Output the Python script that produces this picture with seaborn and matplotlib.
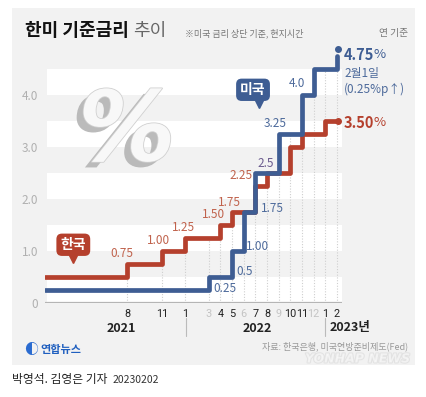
import matplotlib
matplotlib.use('Agg')
import matplotlib.pyplot as plt
import matplotlib.patheffects as pe
from matplotlib.patches import Rectangle
import seaborn as sns
import pandas as pd

# data (months since 2021-01 are computed from these)
kr_month = ['2021-01', '2021-08', '2021-11', '2022-01', '2022-04', '2022-05',
            '2022-07', '2022-08', '2022-10', '2022-11', '2023-01', '2023-02']
kr_rate = [0.5, 0.75, 1.0, 1.25, 1.5, 1.75, 2.25, 2.5, 3.0, 3.25, 3.5, 3.5]
us_month = ['2021-01', '2022-03', '2022-05', '2022-06', '2022-07', '2022-09',
            '2022-11', '2022-12', '2023-02']
us_rate = [0.25, 0.5, 1.0, 1.75, 2.5, 3.25, 4.0, 4.5, 4.75]

tick_month = ['2021-08', '2021-11', '2022-01', '2022-03', '2022-04', '2022-05',
              '2022-06', '2022-07', '2022-08', '2022-09', '2022-10', '2022-11',
              '2022-12', '2023-01', '2023-02']
tick_label = ['8', '11', '1', '3', '4', '5', '6', '7', '8', '9', '10', '11', '12', '1', '2']
tick_grey = ['2022-03', '2022-06', '2022-09', '2022-12']
year_label = ['2021', '2022', '2023년']

RED = '#b5402d'
BLUE = '#3e5d93'
RED_T = '#c0624c'
BLUE_T = '#4d6a9b'
PURPLE = '#6a5b8e'
BG = '#f2f2f2'


def mi(s):
    y, m = s.split('-')
    return (int(y) - 2021) * 12 + int(m) - 1


kr = pd.DataFrame({'m': [mi(s) for s in kr_month], 'rate': kr_rate})
us = pd.DataFrame({'m': [mi(s) for s in us_month], 'rate': us_rate})

sns.set_style('white')
plt.rcParams['font.family'] = ['Noto Sans CJK KR', 'DejaVu Sans']

W, H = 427, 397
fig = plt.figure(figsize=(W / 100, H / 100), dpi=100, facecolor='white')


def fx(px):
    return px / W


def fy(py):
    return 1 - py / H


fig.patches.append(Rectangle((fx(12), fy(365)), (415 - 12) / W, (365 - 8) / H,
                             transform=fig.transFigure, facecolor=BG,
                             edgecolor='none', zorder=-10))

ax = fig.add_axes([fx(45.3), fy(303), 25.4 * 11.67 / W, 4.95 * 52 / H])
ax.patch.set_alpha(0)
ax.set_xlim(0, 25.4)
ax.set_ylim(0, 4.95)
for s in ax.spines.values():
    s.set_visible(False)

# white bands
for lo in [0, 1.0, 2.0, 3.0, 4.0]:
    ax.axhspan(lo, lo + 0.5, xmin=0.006, xmax=1, color='white', zorder=0.5, lw=0)


# dotted month guides up to the highest rate at that month
def rate_at(df, m):
    return df[df['m'] <= m]['rate'].iloc[-1]


for t in tick_month:
    m = mi(t)
    top = max(rate_at(kr, m), rate_at(us, m))
    ax.vlines(m, 0, top, colors='#cfcfcf', linestyles=(0, (1, 1.5)), lw=0.8, zorder=1)

ax.axhline(0, color='#b5b5b5', lw=1.6, zorder=2)

sns.lineplot(data=kr, x='m', y='rate', ax=ax, color=RED, lw=3.4,
             drawstyle='steps-post', estimator=None, sort=False, zorder=3)
sns.lineplot(data=us, x='m', y='rate', ax=ax, color=BLUE, lw=3.4,
             drawstyle='steps-post', estimator=None, sort=False, zorder=4)
ax.plot(kr['m'].iloc[-1] + 0.05, kr['rate'].iloc[-1], 'o', ms=4, color=RED, zorder=5, clip_on=False)
ax.plot(us['m'].iloc[-1] + 0.05, us['rate'].iloc[-1] + 0.13, 'o', ms=4, color=BLUE, zorder=5, clip_on=False)

ax.set_xlabel('')
ax.set_ylabel('')
ax.set_xticks([mi(t) for t in tick_month])
ax.set_xticklabels(tick_label)
for lbl, t in zip(ax.get_xticklabels(), tick_month):
    lbl.set_color('#c4c4c4' if t in tick_grey else '#222222')
    lbl.set_family(['Roboto', 'DejaVu Sans'])
    lbl.set_fontsize(7.8)
ax.tick_params(axis='x', length=0, pad=4)
ax.set_yticks([0, 1, 2, 3, 4])
ax.set_yticklabels(['0', '1.0', '2.0', '3.0', '4.0'], color='#b0b0b0', fontsize=8.5)
ax.tick_params(axis='y', length=0, pad=5)

# value labels (positions are layout)
kr_lbl = [('0.75', 6.6, 0.96), ('1.00', 9.7, 1.21), ('1.25', 11.8, 1.46),
          ('1.50', 14.4, 1.71), ('1.75', 15.8, 1.94), ('2.25', 16.8, 2.46)]
us_lbl = [('0.25', 15.4, 0.27), ('0.5', 17.1, 0.60), ('1.00', 18.2, 1.08),
          ('1.75', 19.5, 1.81), ('3.25', 19.7, 3.46), ('4.0', 21.6, 4.23)]
for t, x, y in kr_lbl:
    ax.text(x, y, t, color=RED_T, fontsize=8.5, ha='center', va='center', zorder=6)
for t, x, y in us_lbl:
    ax.text(x, y, t, color=BLUE_T, fontsize=8.5, ha='center', va='center', zorder=6)
ax.text(18.9, 2.69, '2.5', color=PURPLE, fontsize=8.5, ha='center', va='center', zorder=6)

# country tags
ax.text(2.4, 1.12, '한국', color='white', fontsize=10, fontweight='bold', ha='center',
        va='center', zorder=7,
        bbox=dict(boxstyle='round,pad=0.3,rounding_size=0.4', fc=RED, ec='none'))
ax.plot(2.4, 0.84, marker='v', ms=6, color=RED, zorder=7)
ax.text(17.8, 4.1, '미국', color='white', fontsize=10, fontweight='bold', ha='center',
        va='center', zorder=7,
        bbox=dict(boxstyle='round,pad=0.3,rounding_size=0.4', fc=BLUE, ec='none'))
ax.plot(18.3, 3.82, marker='v', ms=6, color=BLUE, zorder=7)

# big percent sign
ax.text(7.0, 3.25, '%', fontsize=70, fontweight='bold', fontstyle='italic',
        family='DejaVu Sans', color='#f8f8f8', ha='center', va='center', zorder=1,
        path_effects=[pe.withSimplePatchShadow(offset=(-5, -4), shadow_rgbFace='#b4b4b4', alpha=0.9),
                      pe.withStroke(linewidth=1.2, foreground='#d0d0d0')])

# title and notes
fig.text(fx(25), fy(36), '한미 기준금리', fontsize=13, fontweight='bold', color='#111111', va='baseline')
fig.text(fx(133), fy(36), '추이', fontsize=13, color='#666666', va='baseline')
fig.text(fx(185), fy(36), '※미국 금리 상단 기준, 현지시간', fontsize=6.5, color='#777777', va='baseline')
fig.text(fx(408), fy(36), '연 기준', fontsize=7, color='#777777', va='baseline', ha='right')

# right side labels
fig.text(fx(344), fy(55), '4.75', fontsize=10.5, fontweight='bold', color=BLUE, va='center')
fig.text(fx(374), fy(55), '%', fontsize=9.5, color=BLUE, va='center')
fig.text(fx(344), fy(73), '2월1일', fontsize=8.5, color=BLUE_T, va='center')
fig.text(fx(344), fy(89), '(0.25%p↑)', fontsize=8.5, color=BLUE_T, va='center')
fig.text(fx(344), fy(123), '3.50', fontsize=10.5, fontweight='bold', color=RED, va='center')
fig.text(fx(374), fy(123), '%', fontsize=9.5, color=RED, va='center')

# years
fig.text(fx(121), fy(328), year_label[0], fontsize=9, fontweight='bold', color='#222222', ha='center', va='center')
fig.text(fx(257), fy(328), year_label[1], fontsize=9, fontweight='bold', color='#222222', ha='center', va='center')
fig.text(fx(330), fy(328), year_label[2], fontsize=9, fontweight='bold', color='#222222', ha='left', va='center')
for px in [186, 325]:
    fig.add_artist(plt.Line2D([fx(px), fx(px)], [fy(318), fy(336)], color='#bbbbbb', lw=0.8))

# footer
fig.text(fx(24), fy(350), '◐', fontsize=10, color='#2a6bd0', va='center')
fig.text(fx(40), fy(350), '연합뉴스', fontsize=8, fontweight='bold', color='#1f5fbf', va='center')
fig.text(fx(408), fy(346), '자료: 한국은행, 미국연방준비제도(Fed)', fontsize=6.5, color='#999999', ha='right', va='center')
fig.text(fx(410), fy(359), 'YONHAP NEWS', fontsize=9, fontweight='bold', fontstyle='italic',
         family='DejaVu Sans', color='white', alpha=0.5, ha='right', va='center',
         path_effects=[pe.withStroke(linewidth=1.5, foreground='#d4d4d4')])
fig.text(fx(12), fy(380), '박영석. 김영은 기자', fontsize=8.5, color='#222222', va='center')
fig.text(fx(113), fy(380), '20230202', fontsize=7.5, color='#333333', va='center')

fig.savefig('out.png', dpi=100, facecolor='white')
